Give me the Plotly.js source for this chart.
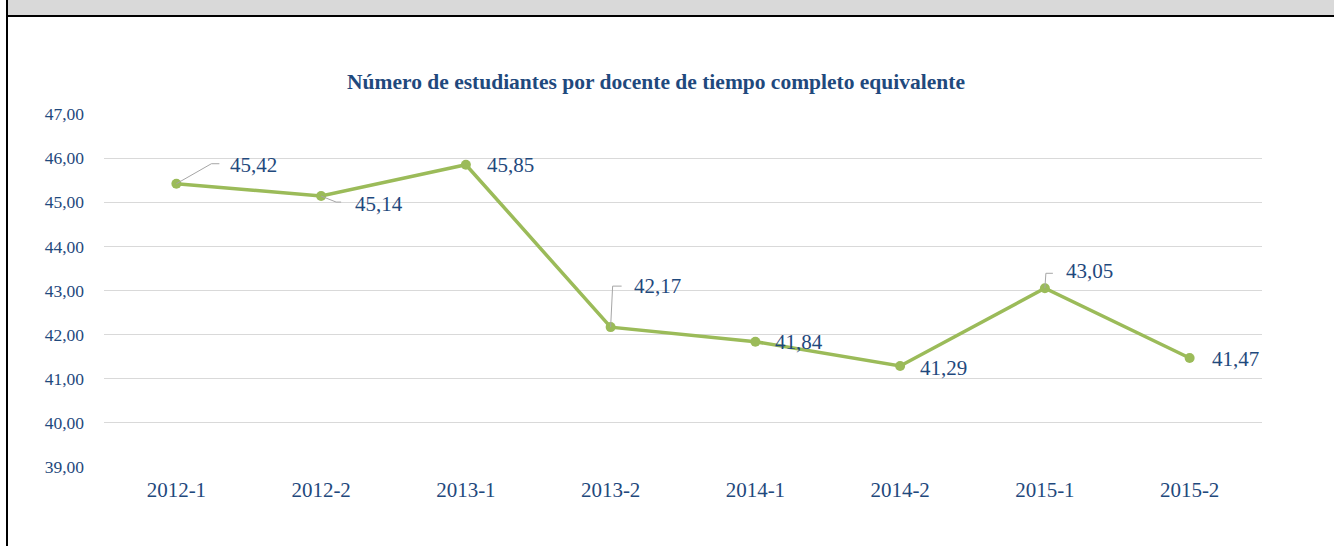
<!DOCTYPE html>
<html><head><meta charset="utf-8">
<script src="https://cdn.plot.ly/plotly-3.0.1.min.js"></script>
<style>
html,body{margin:0;padding:0;background:#fff;}
#wrap{position:relative;width:1334px;height:546px;overflow:hidden;}
#bar{position:absolute;left:8px;top:0;width:1326px;height:15px;background:#D9D9D9;}
#hline{position:absolute;left:6px;top:15px;width:1328px;height:2px;background:#000;}
#vline{position:absolute;left:6px;top:0;width:2px;height:546px;background:#000;}
#chart{position:absolute;left:0;top:0;width:1334px;height:546px;}
</style></head>
<body>
<div id="wrap"><div id="bar"></div><div id="hline"></div><div id="vline"></div><div id="chart"></div></div>
<script>
var categories = ["2012-1","2012-2","2013-1","2013-2","2014-1","2014-2","2015-1","2015-2"];
var values = [45.42, 45.14, 45.85, 42.17, 41.84, 41.29, 43.05, 41.47];
var labelText = ["45,42","45,14","45,85","42,17","41,84","41,29","43,05","41,47"];
var yTicks = [39,40,41,42,43,44,45,46,47];

var blue = "#1F497D";
var green = "#9BBB59";
var serif = "Liberation Serif";

// label offsets in pixels (dx right, dy up) and leader paths
var labelOffsets = [[52,19],[32,-8],[19,0],[21,41],[18,0],[18,-2],[19,17],[20,-1]];
var leaders = ["M0,0 L35,20 L43,20","M0,0 L15,-6 L20,-6",null,"M0,0 L2,41 L11,41",null,null,"M0,0 L1,15 L8,15",null];

var annotations = [];
var shapes = [];
for (var i = 0; i < categories.length; i++) {
  annotations.push({
    x: categories[i], y: values[i], xref: "x", yref: "y",
    text: labelText[i], showarrow: false,
    xanchor: "left", yanchor: "middle",
    xshift: labelOffsets[i][0], yshift: labelOffsets[i][1],
    font: {family: serif, size: 21, color: blue}
  });
  if (leaders[i]) {
    shapes.push({
      type: "path", xref: "x", yref: "y",
      xsizemode: "pixel", ysizemode: "pixel",
      xanchor: categories[i], yanchor: values[i],
      path: leaders[i],
      line: {color: "#A6A6A6", width: 1}
    });
  }
}

var trace = {
  x: categories, y: values, type: "scatter", mode: "lines+markers",
  line: {color: green, width: 3.5},
  marker: {color: green, size: 10},
  hoverinfo: "skip"
};

var layout = {
  width: 1334, height: 546,
  margin: {l: 104, r: 72, t: 114, b: 79},
  paper_bgcolor: "rgba(0,0,0,0)", plot_bgcolor: "rgba(0,0,0,0)",
  separators: ",.",
  showlegend: false,
  font: {family: serif, color: blue},
  title: {
    text: "<b>Número de estudiantes por docente de tiempo completo equivalente</b>",
    font: {family: serif, size: 21.5, color: blue},
    x: 656/1334, xanchor: "center", xref: "container",
    y: 1 - 81/546, yanchor: "middle"
  },
  xaxis: {
    type: "category", range: [-0.5, 7.5],
    showgrid: false, zeroline: false, showline: false, ticks: "",
    tickfont: {family: serif, size: 21, color: blue},
    ticklabelstandoff: 8
  },
  yaxis: {
    range: [39, 47], tickvals: yTicks, tickformat: ".2f",
    showgrid: true, gridcolor: "#D9D9D9", gridwidth: 1,
    zeroline: false, showline: false, ticks: "",
    tickfont: {family: serif, size: 17.5, color: blue},
    ticklabelstandoff: 19
  },
  annotations: annotations,
  shapes: shapes
};

Plotly.newPlot("chart", [trace], layout, {displayModeBar: false, staticPlot: true});
</script>
</body></html>
